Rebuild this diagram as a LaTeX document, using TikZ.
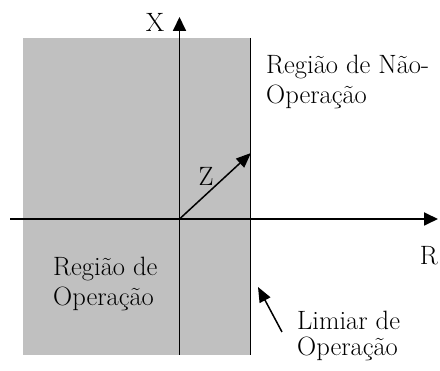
\documentclass[tikz,border=0pt]{standalone}
\usetikzlibrary{arrows.meta}
\definecolor{regiongray}{RGB}{192,192,192}
\begin{document}
\begin{tikzpicture}[x=1pt,y=-1pt,
  axis/.style={line width=1.8pt,-{Triangle[length=14pt,width=13pt]}},
  lbl/.style={font=\fontsize{26.5}{30}\selectfont, align=left, inner sep=0pt, anchor=north west},
  sym/.style={font=\fontsize{26.5}{30}\selectfont, inner sep=0pt}]
\useasboundingbox (0,0) rectangle (440,371);
\fill[regiongray] (23,38) rectangle (250.5,355);
\coordinate (O) at (179.5,219);
\coordinate (Xtop) at (179.5,17);
\coordinate (Xbot) at (179.5,355);
\coordinate (Rleft) at (10,219);
\coordinate (Rright) at (438,219);
\coordinate (Ltop) at (250.5,38);
\coordinate (Lbot) at (250.5,355);
\coordinate (Ztip) at (251,153);
\coordinate (Ltail) at (282,332);
\coordinate (Lhead) at (258,287);
\draw[axis] (Xbot) -- (Xtop);
\draw[axis] (Rleft) -- (Rright);
\draw[line width=1.8pt] (Ltop) -- (Lbot);
\draw[line width=1.5pt,-{Triangle[length=15pt,width=12pt]}] (O) -- (Ztip);
\draw[line width=1.5pt,-{Triangle[length=15pt,width=12pt]}] (Ltail) -- (Lhead);
\node[sym] (X) at (155,22) {X};
\node[sym] (R) at (429,256) {R};
\node[sym] (Z) at (206,176) {Z};
\node[lbl] (nop) at (266,55) {Região de Não-\\Operação};
\node[lbl] (op) at (53,257) {Região de\\Operação};
\node[lbl] (lim) at (297,311) {Limiar de\\[-4pt]Operação};
\end{tikzpicture}
\end{document}
